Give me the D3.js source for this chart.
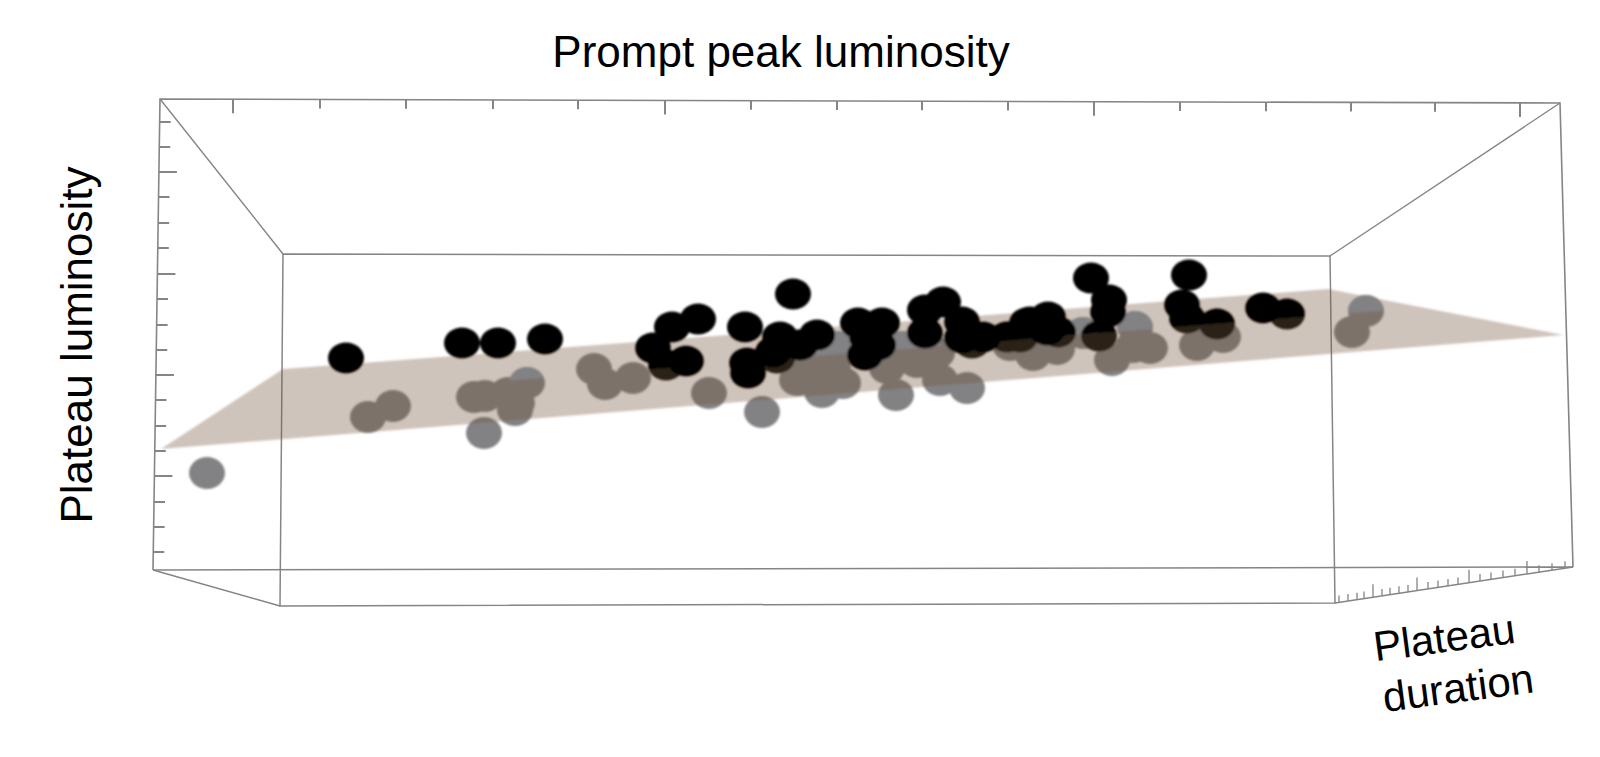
<!DOCTYPE html>
<html>
<head>
<meta charset="utf-8">
<script src="https://cdn.jsdelivr.net/npm/d3@7/dist/d3.min.js"></script>
<style>
html,body{margin:0;padding:0;background:#fff;overflow:hidden}
svg{display:block}
text{font-family:"Liberation Sans",Arial,sans-serif;fill:#000}
</style>
</head>
<body>
<svg id="chart" width="1600" height="757"></svg>
<script>
// Values, as [prompt peak luminosity, plateau luminosity]
const aboveFit = [[34.6,24.2],[46.2,25.7],[49.8,25.7],[54.5,26.1],[65.3,25.2],[67.2,27.3],[69.8,28.1],[68.6,23.9],[74.5,27.3],[74.7,23.7],[74.8,22.7],[79.3,30.6],[78.0,26.3],[77.3,24.8],[80.0,25.5],[81.7,26.5],[85.8,27.7],[88.2,27.7],[86.7,26.3],[87.8,25.5],[86.5,24.5],[92.5,29.0],[94.3,29.8],[92.5,26.7],[96.2,27.8],[96.2,26.2],[98.3,26.3],[102.7,27.7],[104.8,28.3],[103.0,27.8],[104.7,27.0],[109.1,32.2],[110.9,30.0],[110.8,28.8],[118.9,32.5],[118.2,29.5],[126.3,29.2]];
const crossingFit = [[66.6,23.5],[77.7,24.2],[97.2,25.7],[100.7,26.3],[102.0,26.3],[105.8,26.8],[109.9,26.4],[118.7,28.2],[121.7,27.6],[128.7,28.6]];
const belowFit = [[20.7,12.7],[36.8,18.3],[39.3,19.4],[47.4,20.3],[48.5,20.4],[50.8,20.7],[51.5,19.0],[51.7,19.7],[48.4,16.7],[59.4,23.1],[60.5,21.6],[63.3,22.2],[70.9,20.7],[76.2,18.8],[82.2,20.8],[84.3,21.7],[79.7,22.0],[81.7,21.7],[83.3,23.3],[89.6,20.5],[94.0,22.0],[96.7,21.2],[88.7,23.2],[91.7,23.8],[93.7,24.7],[101.0,25.5],[103.3,24.5],[105.7,25.1],[115.0,25.2],[113.3,25.3],[111.2,24.0],[119.7,25.5],[122.3,26.3],[135.2,26.8]];
const belowCrossingFit = [[52.7,21.7],[81.0,23.5],[83.7,25.3],[90.3,25.3],[92.3,25.3],[108.3,26.7],[113.5,27.3],[136.6,28.9]];
const fitPlane = [[16.1,15.1],[28.3,23.1],[132.8,31.1],[156.3,26.5]];
const planeCut = [[66.6,23.2],[128.8,28.2]];

const backBox = [[16.0,50.1],[156.0,49.7],[157.3,3.3],[15.3,3.0]];
const frontBox = [[28.3,34.6],[133.0,34.4],[133.5,-0.3],[28.0,-0.6]];

const topTicks = [23.3,32.0,40.6,49.3,57.8,66.5,75.1,83.7,92.2,100.8,109.4,118.0,126.6,135.1,143.5,152.0];
const leftTicks = [47.8,45.3,42.8,40.3,37.7,35.2,32.6,30.1,27.5,25.0,22.5,20.0,17.4,14.9,12.4,9.8,7.3,4.8];
const depthTicks = [133.9,134.8,135.7,136.4,137.3,138.2,139.0,139.9,140.8,141.7,142.8,143.8,144.8,145.8,146.9,148.0,149.1,150.3,151.5,152.7,153.9,155.2,156.5];
const topMajorEvery = 5, leftMajorFrom = 2, leftMajorEvery = 4, depthMajorFrom = 4, depthMajorEvery = 5;

const titleX = "Prompt peak luminosity";
const titleY = "Plateau luminosity";
const titleZ = ["Plateau","duration"];

const svg = d3.select("#chart");
const x = d3.scaleLinear().domain([0,160]).range([0,1600]);
const y = d3.scaleLinear().domain([-15.7,60]).range([757,0]);
const pt = d => [x(d[0]), y(d[1])];
const edgeAt = (a,b) => d3.scaleLinear().domain([a[0],b[0]]).range([a[1],b[1]]);
const edgeAtY = (a,b) => d3.scaleLinear().domain([a[1],b[1]]).range([a[0],b[0]]);

const defs = svg.append("defs");
const blurF = (id,s) => defs.append("filter").attr("id",id).attr("filterUnits","userSpaceOnUse")
  .attr("x",0).attr("y",0).attr("width",1600).attr("height",757)
  .append("feGaussianBlur").attr("stdDeviation",s);
blurF("soft",0.8);
blurF("softLine",0.45);
const cut = edgeAt(planeCut[0],planeCut[1]);
defs.append("clipPath").attr("id","abovePlane").append("polygon")
  .attr("points",[[0,60],[160,60],[160,cut(160)],[0,cut(0)]].map(d=>pt(d).join(",")).join(" "));

const lineC = "#858585";
const frameG = svg.append("g").attr("fill","none").attr("stroke",lineC).attr("stroke-width",1.6).attr("filter","url(#softLine)");
const seg = (g,a,b,w) => g.append("line")
  .attr("x1",x(a[0])).attr("y1",y(a[1])).attr("x2",x(b[0])).attr("y2",y(b[1]))
  .attr("stroke-width",w||null);

frameG.append("polyline").attr("points",[backBox[3],backBox[0],backBox[1],backBox[2]].map(d=>pt(d).join(",")).join(" "));
seg(frameG,backBox[3],backBox[2],1.5);
frameG.append("polygon").attr("points",frontBox.map(d=>pt(d).join(",")).join(" ")).attr("stroke-width",1.5);
backBox.forEach((c,i)=>seg(frameG,c,frontBox[i],1.4));

const topY = edgeAt(backBox[0],backBox[1]);
topTicks.forEach((t,i)=>{
  const major = i % topMajorEvery === 0;
  seg(frameG,[t,topY(t)],[t,topY(t)-(major?1.4:0.9)],2);
});
const leftX = edgeAtY(backBox[0],backBox[3]);
leftTicks.forEach((t,i)=>{
  const major = i >= leftMajorFrom && (i-leftMajorFrom)%leftMajorEvery===0;
  seg(frameG,[leftX(t),t],[leftX(t)+(major?1.8:1.1),t],2);
});
const depthY = edgeAt(frontBox[2],backBox[2]);
depthTicks.forEach((t,i)=>{
  const major = i >= depthMajorFrom && (i-depthMajorFrom)%depthMajorEvery===0;
  seg(frameG,[t,depthY(t)],[t,depthY(t)+(major?1.3:0.7)],1.3);
});

const dots = (g,data,fill,rx,ry) => g.selectAll(null).data(data).join("ellipse")
  .attr("cx",d=>x(d[0])).attr("cy",d=>y(d[1])).attr("rx",rx).attr("ry",ry).attr("fill",fill);

const marks = svg.append("g").attr("filter","url(#soft)");
const grey = "#828284", black = "#040404";
// beneath the fitted plane
const underLayer = marks.append("g");
dots(underLayer,belowFit,grey,18,16);
dots(underLayer,belowCrossingFit,grey,18,16);
dots(underLayer,crossingFit,black,18,15.5);
// the translucent plane
marks.append("polygon")
  .attr("points",fitPlane.map(d=>pt(d).join(",")).join(" "))
  .attr("fill","rgb(117,86,60)").attr("fill-opacity",0.35);
// the parts of the points that stick out of the plane
const overLayer = marks.append("g").attr("clip-path","url(#abovePlane)");
dots(overLayer,belowCrossingFit,grey,18,16);
dots(overLayer,crossingFit,black,18,15.5);
const frontLayer = marks.append("g");
dots(frontLayer,aboveFit,black,18,15.5);

svg.append("text").attr("x",781).attr("y",67).attr("text-anchor","middle").attr("font-size",44).text(titleX);
svg.append("text").attr("transform","translate(92,345) rotate(-90)").attr("text-anchor","middle").attr("font-size",44).text(titleY);
svg.append("text").attr("transform","translate(1446,652) rotate(-7.5)").attr("text-anchor","middle").attr("font-size",42).text(titleZ[0]);
svg.append("text").attr("transform","translate(1460,702) rotate(-7.5)").attr("text-anchor","middle").attr("font-size",42).text(titleZ[1]);
</script>
</body>
</html>
